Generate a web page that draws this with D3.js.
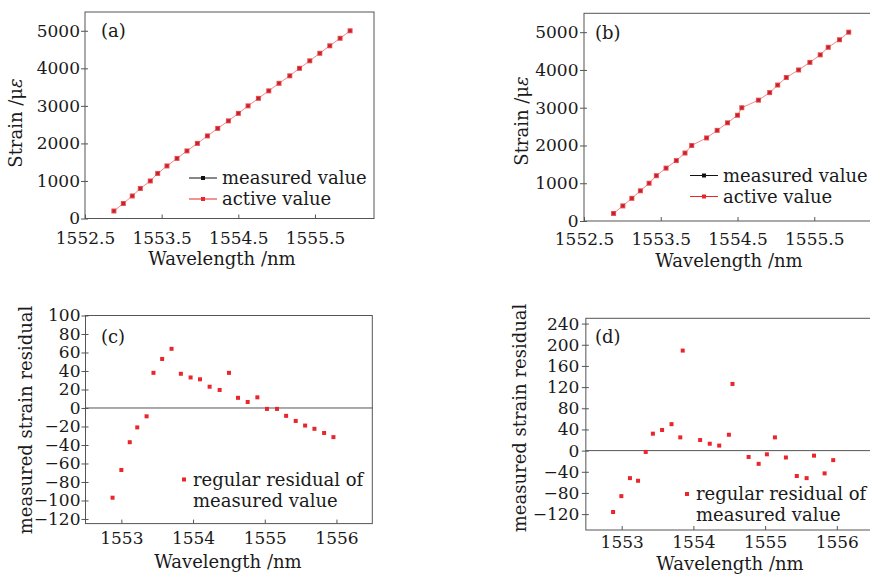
<!DOCTYPE html>
<html>
<head>
<meta charset="utf-8">
<script src="https://cdn.jsdelivr.net/npm/d3@7"></script>
<style>
  body { margin: 0; background: #fff; }
  svg { display: block; font-family: "DejaVu Serif", serif; }
  .axis line { stroke: #555; }
  .axis text { fill: #1a1a1a; font-size: 17px; font-family: "DejaVu Serif", serif; }
  .title { fill: #1a1a1a; font-size: 18px; }
</style>
</head>
<body>
<div id="chart"></div>
<script>
// strain steps applied (same for both runs)
var strainValues = [200, 400, 600, 800, 1000, 1200, 1400, 1600, 1800, 2000, 2200, 2400, 2600,
                    2800, 3000, 3200, 3400, 3600, 3800, 4000, 4200, 4400, 4600, 4800, 5000];

// centre wavelength read for each step, run (a) and run (b)
var wavelengthA = [1552.877, 1553.000, 1553.117, 1553.222, 1553.352, 1553.448, 1553.569, 1553.700,
                   1553.830, 1553.966, 1554.097, 1554.231, 1554.371, 1554.501, 1554.627, 1554.762,
                   1554.897, 1555.031, 1555.171, 1555.298, 1555.432, 1555.563, 1555.693, 1555.828, 1555.958];
var wavelengthB = [1552.885, 1553.006, 1553.123, 1553.235, 1553.348, 1553.443, 1553.569, 1553.703,
                   1553.816, 1553.903, 1554.097, 1554.235, 1554.370, 1554.500, 1554.556, 1554.773,
                   1554.919, 1555.023, 1555.136, 1555.296, 1555.443, 1555.578, 1555.682, 1555.829, 1555.949];

// residual plots
var wavelengthD = [1552.880, 1552.995, 1553.115, 1553.228, 1553.335, 1553.435, 1553.563, 1553.695,
                   1553.817, 1553.851, 1554.094, 1554.228, 1554.360, 1554.495, 1554.545, 1554.770,
                   1554.910, 1555.025, 1555.137, 1555.290, 1555.442, 1555.579, 1555.682, 1555.830, 1555.950];
var residualC = [-97, -67, -37, -21, -9, 38, 53, 64, 37, 33, 31, 23, 19.5, 38, 11, 6.5, 11.5,
                 -1, -1, -8.5, -14, -19, -22.5, -27, -31.5];
var residualD = [-116, -86, -52, -57, -2.5, 32, 39, 50, 25, 189, 20, 13, 9.5, 30, 126, -12, -25,
                 -7, 25, -13, -48, -52, -9.5, -43, -18];

var strainTicks = [0, 1000, 2000, 3000, 4000, 5000];
var nmTicksTop = [1552.5, 1553.5, 1554.5, 1555.5];
var nmTicksBottom = [1553, 1554, 1555, 1556];
var residualTicksC = [-120, -100, -80, -60, -40, -20, 0, 20, 40, 60, 80, 100];
var residualTicksD = [-120, -80, -40, 0, 40, 80, 120, 160, 200, 240];

var W = 870, H = 574;
var svg = d3.select("#chart").append("svg")
    .attr("width", W)
    .attr("height", H);

var red = "#e8262c";

const drawFrame = (p) => {
  var x = d3.scaleLinear().domain(p.xDomain).range(p.xRange);
  var y = d3.scaleLinear().domain(p.yDomain).range(p.yRange);

  svg.append("rect")
      .attr("x", p.xRange[0])
      .attr("y", p.yRange[1])
      .attr("width", p.xRange[1] - p.xRange[0])
      .attr("height", p.yRange[0] - p.yRange[1])
      .attr("fill", "none")
      .attr("stroke", "#555");

  var gx = svg.append("g")
      .attr("class", "axis")
      .attr("transform", "translate(0," + p.yRange[0] + ")")
      .call(d3.axisBottom(x).tickValues(p.xTicks).tickFormat(p.xFormat).tickSize(-4).tickPadding(p.xPad));
  gx.select(".domain").remove();

  var gy = svg.append("g")
      .attr("class", "axis")
      .attr("transform", "translate(" + p.xRange[0] + ",0)")
      .call(d3.axisLeft(y).tickValues(p.yTicks).tickFormat(d3.format("d")).tickSize(4).tickPadding(p.yPad));
  gy.select(".domain").remove();
  gy.selectAll(".tick line").attr("x1", 3);

  svg.append("text")
      .attr("class", "title")
      .attr("x", p.xLabelPos[0])
      .attr("y", p.xLabelPos[1])
      .attr("dy", "0.35em")
      .attr("text-anchor", "middle")
      .text("Wavelength /nm");

  var yl = svg.append("text")
      .attr("class", "title")
      .attr("transform", "translate(" + p.yLabelPos[0] + "," + p.yLabelPos[1] + ") rotate(-90)")
      .attr("dy", "0.35em")
      .attr("text-anchor", "middle");
  if (p.strain) {
    yl.append("tspan").text("Strain /\u03bc");
    yl.append("tspan").attr("font-style", "italic").text("\u03b5");
  } else {
    yl.text("measured strain residual");
  }

  svg.append("text")
      .attr("class", "title")
      .attr("x", p.tag[1])
      .attr("y", p.tag[2])
      .attr("dy", "0.35em")
      .text(p.tag[0]);

  return {x: x, y: y};
};

const drawStrain = (p, wl) => {
  var s = drawFrame(p);
  var data = wl.map((w, i) => ({w: w, v: strainValues[i]}));

  svg.append("path")
      .datum(data)
      .attr("fill", "none")
      .attr("stroke", "#f28a8a")
      .attr("stroke-width", 1)
      .attr("d", d3.line().x((d) => s.x(d.w)).y((d) => s.y(d.v)));

  svg.selectAll(null).data(data).enter().append("rect")
      .attr("x", (d) => s.x(d.w) - 1.5).attr("y", (d) => s.y(d.v) - 1.5)
      .attr("width", 3).attr("height", 3).attr("fill", "#111");
  svg.selectAll(null).data(data).enter().append("rect")
      .attr("x", (d) => s.x(d.w) - 2.5).attr("y", (d) => s.y(d.v) - 2.5)
      .attr("width", 5).attr("height", 5).attr("fill", red).attr("fill-opacity", 0.82);

  // legend
  var L = p.legend;
  [["measured value", "#111", 0], ["active value", red, 21]].forEach((e) => {
    svg.append("line")
        .attr("x1", L[0]).attr("x2", L[0] + 28)
        .attr("y1", L[1] + e[2]).attr("y2", L[1] + e[2])
        .attr("stroke", e[1]).attr("stroke-width", 1);
    svg.append("rect")
        .attr("x", L[0] + 12).attr("y", L[1] + e[2] - 2)
        .attr("width", 4).attr("height", 4).attr("fill", e[1]);
    svg.append("text")
        .attr("class", "title")
        .attr("x", L[0] + 33).attr("y", L[1] + e[2])
        .attr("dy", "0.35em")
        .text(e[0]);
  });
};

const drawResidual = (p, wl, res) => {
  var s = drawFrame(p);
  var data = wl.map((w, i) => ({w: w, v: res[i]}));

  svg.append("line")
      .attr("x1", p.xRange[0]).attr("x2", p.xRange[1])
      .attr("y1", s.y(0)).attr("y2", s.y(0))
      .attr("stroke", "#555");

  svg.selectAll(null).data(data).enter().append("rect")
      .attr("x", (d) => s.x(d.w) - 2).attr("y", (d) => s.y(d.v) - 2)
      .attr("width", 4).attr("height", 4).attr("fill", red);

  var L = p.legend;
  svg.append("rect")
      .attr("x", L[0] - 2).attr("y", L[1] - 2)
      .attr("width", 4).attr("height", 4).attr("fill", red);
  svg.append("text")
      .attr("class", "title")
      .attr("x", L[0] + 9).attr("y", L[1])
      .attr("dy", "0.35em")
      .text("regular residual of");
  svg.append("text")
      .attr("class", "title")
      .attr("x", L[0] + 9).attr("y", L[1] + 21)
      .attr("dy", "0.35em")
      .text("measured value");
};

drawStrain({
  xDomain: [1552.5, 1556.27], xRange: [85, 374],
  yDomain: [0, 5500], yRange: [218.5, 12],
  xTicks: nmTicksTop, xFormat: d3.format(".1f"), xPad: 13,
  yTicks: strainTicks, yPad: 1,
  xLabelPos: [222, 259], yLabelPos: [16, 123], strain: true,
  tag: ["(a)", 101, 31],
  legend: [189, 178]
}, wavelengthA);

drawStrain({
  xDomain: [1552.5, 1556.5], xRange: [584, 891],
  yDomain: [0, 5500], yRange: [221, 13.3],
  xTicks: nmTicksTop, xFormat: d3.format(".1f"), xPad: 12,
  yTicks: strainTicks, yPad: 1.5,
  xLabelPos: [729, 261], yLabelPos: [522, 121], strain: true,
  tag: ["(b)", 595, 33],
  legend: [690, 175.5]
}, wavelengthB);

drawResidual({
  xDomain: [1552.5, 1556.5], xRange: [85.5, 372.3],
  yDomain: [-125, 100], yRange: [523.6, 315.5],
  xTicks: nmTicksBottom, xFormat: d3.format("d"), xPad: 8,
  yTicks: residualTicksC, yPad: 1,
  xLabelPos: [228, 562], yLabelPos: [26, 420], strain: false,
  tag: ["(c)", 101, 336.5],
  legend: [184, 479.5]
}, wavelengthA, residualC);

drawResidual({
  xDomain: [1552.5, 1556.5], xRange: [585.85, 872.65],
  yDomain: [-150, 250], yRange: [530, 318.3],
  xTicks: nmTicksBottom, xFormat: d3.format("d"), xPad: 6,
  yTicks: residualTicksD, yPad: 2.5,
  xLabelPos: [730, 564], yLabelPos: [520, 418], strain: false,
  tag: ["(d)", 595, 336.5],
  legend: [687, 494]
}, wavelengthD, residualD);
</script>
</body>
</html>
